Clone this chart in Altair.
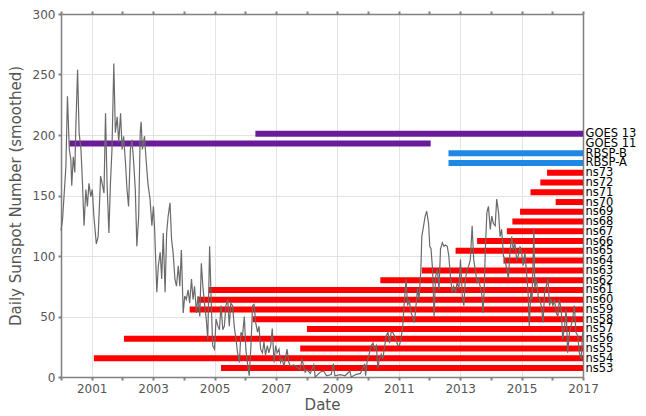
import altair as alt
import pandas as pd

# Sunspot series (decimal year, smoothed daily sunspot number)
ss_year = [2000.00,2000.05,2000.10,2000.16,2000.21,2000.27,2000.32,2000.35,2000.40,2000.45,2000.48,2000.54,2000.59,2000.65,2000.70,2000.75,2000.81,2000.86,2000.91,2000.97,
2001.02,2001.07,2001.15,2001.21,2001.29,2001.34,2001.40,2001.45,2001.50,2001.56,2001.61,2001.66,2001.72,2001.77,2001.83,2001.88,2001.94,2001.99,
2002.04,2002.10,2002.15,2002.20,2002.26,2002.31,2002.36,2002.42,2002.47,2002.53,2002.58,2002.61,2002.65,2002.72,2002.77,2002.83,2002.90,2002.96,
2003.01,2003.05,2003.12,2003.17,2003.23,2003.28,2003.33,2003.39,2003.44,2003.49,2003.55,2003.60,2003.65,2003.71,2003.76,2003.82,2003.87,2003.92,2003.98,
2004.03,2004.08,2004.14,2004.19,2004.25,2004.30,2004.35,2004.41,2004.46,2004.52,2004.57,2004.62,2004.68,2004.73,2004.78,2004.84,2004.89,2004.94,
2005.00,2005.05,2005.11,2005.16,2005.21,2005.27,2005.32,2005.37,2005.43,2005.48,2005.53,2005.59,2005.64,2005.70,2005.75,2005.81,2005.86,2005.91,2005.97,
2006.02,2006.07,2006.13,2006.18,2006.24,2006.29,2006.34,2006.40,2006.45,2006.50,2006.56,2006.61,2006.66,2006.72,2006.77,2006.83,2006.88,2006.94,2006.99,
2007.04,2007.10,2007.15,2007.20,2007.26,2007.31,2007.36,2007.42,2007.47,2007.58,2007.69,2007.79,2007.85,2007.90,2007.95,
2008.01,2008.12,2008.23,2008.28,2008.44,2008.55,2008.65,2008.80,2008.87,2008.92,
2009.10,2009.25,2009.41,2009.45,2009.60,2009.75,2009.89,2009.92,2009.97,
2010.03,2010.10,2010.16,2010.21,2010.27,2010.32,2010.37,2010.43,2010.48,2010.59,2010.65,2010.70,2010.75,2010.80,2010.86,2010.91,2010.97,
2011.02,2011.07,2011.13,2011.18,2011.24,2011.26,2011.29,2011.34,2011.40,2011.45,2011.50,2011.54,2011.58,2011.61,2011.66,2011.72,2011.75,2011.79,2011.86,2011.91,2011.97,
2012.01,2012.05,2012.10,2012.15,2012.20,2012.26,2012.31,2012.36,2012.42,2012.47,2012.52,2012.58,2012.63,2012.69,2012.74,2012.79,2012.85,2012.90,2012.96,
2013.01,2013.07,2013.12,2013.17,2013.23,2013.28,2013.33,2013.39,2013.44,2013.49,2013.55,2013.60,2013.65,2013.71,2013.74,2013.78,2013.82,2013.87,2013.92,2013.98,
2014.03,2014.08,2014.14,2014.19,2014.25,2014.30,2014.35,2014.41,2014.46,2014.52,2014.57,2014.62,2014.68,2014.73,2014.78,2014.84,2014.89,2014.95,
2015.00,2015.05,2015.11,2015.16,2015.21,2015.25,2015.30,2015.34,2015.40,2015.43,2015.48,2015.54,2015.59,2015.64,2015.70,2015.75,2015.80,2015.86,2015.91,2015.96,
2016.02,2016.07,2016.13,2016.18,2016.23,2016.29,2016.34,2016.40,2016.45,2016.50,2016.56,2016.61,2016.66,2016.72,2016.77,2016.83,2016.88,2016.94,2016.99]

ss_value = [121,130,150,174,232,188,180,158,182,169,204,254,202,188,160,125,155,141,160,149,
155,133,110,116,166,160,152,218,160,119,160,188,259,202,215,194,218,188,
199,177,155,141,188,196,180,155,108,133,202,211,188,199,180,160,147,125,
141,122,70,92,103,81,119,70,119,133,144,114,103,81,75,92,75,105,53,
67,64,72,61,81,64,75,53,67,50,94,75,59,48,31,108,64,26,
23,48,42,39,59,39,42,59,64,42,61,59,42,31,20,12,37,34,50,
23,12,1,23,59,60,45,37,42,23,20,29,18,26,20,26,40,12,26,
20,23,12,15,9,15,23,12,9,10,8,6,15,9,4,
6,3,10,0,4,5,1,2,11,1,
2,1,5,0,2,3,11,1,13,
18,26,28,23,26,7,15,19,15,34,37,28,37,37,34,31,26,
26,31,42,62,81,70,59,64,53,50,45,53,64,73,64,89,116,122,133,137,127,
108,106,89,50,83,89,72,106,111,108,109,108,100,81,70,75,70,78,73,
97,67,59,81,89,92,97,125,97,89,78,81,75,67,53,70,106,136,141,122,
133,127,125,147,136,116,122,100,97,89,81,103,116,105,111,97,100,108,
103,92,103,86,70,42,70,64,122,73,81,67,64,59,45,70,75,81,59,64,
59,64,53,50,64,56,31,42,56,20,37,42,48,59,37,34,20,15,37]

# Mission / spacecraft coverage bars (bottom to top)
bar_names = ["ns53","ns54","ns55","ns56","ns57","ns58","ns59","ns60","ns61","ns62","ns63","ns64",
             "ns65","ns66","ns67","ns68","ns69","ns70","ns71","ns72","ns73",
             "RBSP-A","RBSP-B","GOES 11","GOES 13"]
bar_start = [2005.21,2001.07,2007.79,2002.05,2008.01,2006.24,2004.19,2004.46,2004.82,2010.40,2011.75,2014.41,
             2012.85,2013.55,2014.52,2014.70,2014.95,2016.11,2015.29,2015.61,2015.83,
             2012.62,2012.62,2000.27,2006.33]
bar_end = [2017.0]*23 + [2012.04, 2017.0]
bar_group = ["ns"]*21 + ["RBSP","RBSP","GOES","GOES"]

ss = pd.DataFrame({"year": ss_year, "ssn": ss_value})
bars = pd.DataFrame({"name": bar_names, "start": bar_start, "end": bar_end,
                     "group": bar_group, "row": list(range(len(bar_names)))})

AX = "#808080"
LAB = "#555555"
FONT = "DejaVu Sans"

label_expr = "[" + ",".join("'%s'" % n for n in bar_names) + "][datum.value]"

xscale = alt.Scale(domain=[2000, 2017], nice=False, zero=False)

line = alt.Chart(ss).mark_line(color="#6a6a6a", strokeWidth=1.2).encode(
    x=alt.X("year:Q", scale=xscale,
            axis=alt.Axis(title="Date", values=list(range(2000, 2018)),
                          labelExpr="datum.value % 2 == 1 ? format(datum.value, 'd') : ''",
                          grid=True,
                          gridOpacity={"condition": {"test": "datum.value % 2 == 1", "value": 1}, "value": 0},
                          orient="bottom", labelPadding=3, titlePadding=3, labelFlush=False)),
    y=alt.Y("ssn:Q", scale=alt.Scale(domain=[0, 300], nice=False),
            axis=alt.Axis(title="Daily Sunspot Number (smoothed)", values=[0, 50, 100, 150, 200, 250, 300],
                          orient="left", grid=True, labelPadding=3, titlePadding=9, labelFlush=False)),
)

rules = alt.Chart(bars).mark_rule(strokeWidth=6).encode(
    x=alt.X("start:Q", scale=xscale,
            axis=alt.Axis(title=None, orient="top", labels=False, grid=False,
                          values=list(range(2000, 2018)))),
    x2="end:Q",
    y=alt.Y("row:Q", scale=alt.Scale(domain=[-0.92, 36.26], nice=False, zero=False),
            axis=alt.Axis(title=None, orient="right", values=list(range(len(bar_names))),
                          labelExpr=label_expr, labelOverlap=False, labelBound=False,
                          labelFlush=False, grid=False, ticks=False, labelColor="#000000",
                          labelFontSize=11.5, labelPadding=2, labelBaseline="middle")),
    color=alt.Color("group:N", scale=alt.Scale(domain=["ns", "RBSP", "GOES"],
                                               range=["#ff0000", "#1e88e5", "#6a1b9a"]),
                    legend=None),
)

chart = alt.layer(rules, line).resolve_scale(y="independent").resolve_axis(
    x="independent", y="independent"
).properties(
    width=522, height=363,
    padding={"left": 0, "top": 0, "right": 0, "bottom": 0},
).configure(background="white").configure_view(
    stroke=None
).configure_axis(
    domainColor=AX, domainWidth=1.5, tickColor=AX, tickWidth=2, tickSize=3,
    labelColor=LAB, labelFont=FONT, labelFontSize=12, titleFont=FONT, titleFontSize=15,
    titleColor=LAB, titleFontWeight="normal", gridColor="#e3e3e3", gridWidth=1,
)

chart.save("out.html", embed_options={"renderer": "svg", "actions": False})
